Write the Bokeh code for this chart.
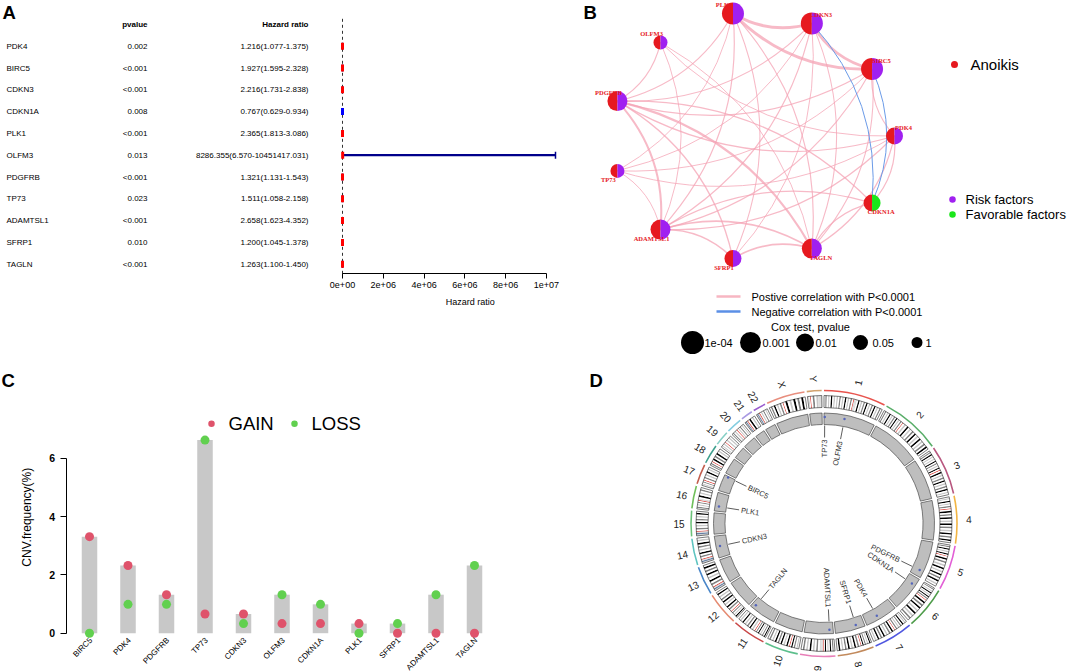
import math
from bokeh.plotting import figure
from bokeh.layouts import row, column
from bokeh.models import FixedTicker, ColumnDataSource
from bokeh.core.properties import value
from bokeh.embed import file_html
from bokeh.resources import INLINE

SANS = "Liberation Sans"
SERIF = "Liberation Serif"

# ---------------- Panel A: univariate Cox regression ----------------
genes_a = ["PDK4", "BIRC5", "CDKN3", "CDKN1A", "PLK1", "OLFM3", "PDGFRB", "TP73", "ADAMTSL1", "SFRP1", "TAGLN"]
pvalue_a = ["0.002", "<0.001", "<0.001", "0.008", "<0.001", "0.013", "<0.001", "0.023", "<0.001", "0.010", "<0.001"]
hr = [1.216, 1.927, 2.216, 0.767, 2.365, 8286.355, 1.321, 1.511, 2.658, 1.200, 1.263]
hr_low = [1.077, 1.595, 1.731, 0.629, 1.813, 6.570, 1.131, 1.058, 1.623, 1.045, 1.100]
hr_high = [1.375, 2.328, 2.838, 0.934, 3.086, 10451417.031, 1.543, 2.158, 4.352, 1.378, 1.450]
hr_ticks = [0.0, 2e6, 4e6, 6e6, 8e6, 1e7]
hr_tick_labels = ["0e+00", "2e+06", "4e+06", "6e+06", "8e+06", "1e+07"]

# ---------------- Panel B: correlation network ----------------
net_genes = ["PDK4", "BIRC5", "CDKN3", "PLK1", "OLFM3", "PDGFRB", "TP73", "ADAMTSL1", "SFRP1", "TAGLN", "CDKN1A"]
net_cox_p = [0.002, 5e-5, 5e-5, 5e-5, 0.013, 5e-4, 0.023, 5e-4, 0.010, 5e-4, 0.008]
edge_from = ["PLK1", "PLK1", "CDKN3", "PDGFRB", "PDGFRB", "ADAMTSL1", "SFRP1", "ADAMTSL1", "OLFM3", "PLK1",
             "PLK1", "PLK1", "PLK1", "PLK1", "CDKN3", "CDKN3", "CDKN3", "CDKN3", "CDKN3", "BIRC5",
             "BIRC5", "BIRC5", "BIRC5", "BIRC5", "OLFM3", "OLFM3", "OLFM3", "PDGFRB", "PDGFRB", "PDGFRB",
             "TP73", "TP73", "ADAMTSL1", "ADAMTSL1", "TAGLN", "TAGLN", "PDK4", "CDKN3", "BIRC5"]
edge_to = ["CDKN3", "BIRC5", "BIRC5", "TAGLN", "ADAMTSL1", "TAGLN", "TAGLN", "SFRP1", "PDGFRB", "PDGFRB",
           "TP73", "ADAMTSL1", "SFRP1", "TAGLN", "PDGFRB", "ADAMTSL1", "TP73", "TAGLN", "SFRP1", "PDGFRB",
           "TP73", "ADAMTSL1", "TAGLN", "PDK4", "PDK4", "TAGLN", "ADAMTSL1", "PDK4", "CDKN1A", "SFRP1",
           "PDK4", "ADAMTSL1", "PDK4", "CDKN1A", "PDK4", "CDKN1A", "CDKN1A", "CDKN1A", "CDKN1A"]
edge_cor = [0.85, 0.85, 0.80, 0.65, 0.60, 0.50, 0.50, 0.42, 0.35, 0.35,
            0.30, 0.35, 0.32, 0.35, 0.35, 0.35, 0.30, 0.32, 0.30, 0.35,
            0.30, 0.35, 0.32, 0.32, 0.30, 0.30, 0.30, 0.35, 0.35, 0.40,
            0.30, 0.30, 0.35, 0.35, 0.35, 0.35, 0.35, -0.30, -0.30]
legend_p = [1e-4, 0.001, 0.01, 0.05, 1.0]
legend_p_labels = ["1e-04", "0.001", "0.01", "0.05", "1"]

# ---------------- Panel C: CNV frequency ----------------
cnv_genes = ["BIRC5", "PDK4", "PDGFRB", "TP73", "CDKN3", "OLFM3", "CDKN1A", "PLK1", "SFRP1", "ADAMTSL1", "TAGLN"]
cnv_gain = [3.31, 2.32, 1.32, 0.66, 0.66, 0.33, 0.33, 0.33, 0.00, 0.00, 0.00]
cnv_loss = [0.00, 0.99, 0.99, 6.62, 0.33, 1.32, 0.99, 0.00, 0.33, 1.32, 2.32]
cnv_ticks = [0, 2, 4, 6]

# ---------------- Panel D: chromosome circos ----------------
chroms = ["1", "2", "3", "4", "5", "6", "7", "8", "9", "10", "11", "12", "13", "14", "15", "16",
          "17", "18", "19", "20", "21", "22", "X", "Y"]
chrom_size = [249.25, 243.2, 198.0, 191.15, 180.9, 171.1, 159.1, 146.4, 141.2, 135.5, 135.0, 133.85,
              115.2, 107.3, 102.5, 90.35, 81.2, 78.1, 59.1, 63.0, 48.1, 51.3, 155.3, 59.4]
chrom_cen = [125.0, 93.3, 91.0, 50.4, 48.4, 61.0, 59.9, 45.6, 49.0, 40.2, 53.7, 35.8,
             17.9, 17.6, 19.0, 36.6, 24.0, 17.2, 26.5, 27.5, 13.2, 14.7, 60.6, 12.5]
chrom_color = ["#E8544E", "#5AAE6A", "#B8577F", "#F2B544", "#E25FD6", "#4E9C4A", "#5158E0", "#C28A5C",
               "#E87FB8", "#5CBF8C", "#C94848", "#E58B72", "#4A86C8", "#5EC4C0", "#6CC27A", "#6FBF5A",
               "#C25E4E", "#3FA08E", "#86CFC6", "#84CDE0", "#A99BE3", "#9A5CCF", "#E88E7E", "#D2A26E"]
band_p = ["w3w1w4w2w1w3w2w4w1w3w", "w3w1w4w2w3w4w1w3w", "w3w4w1w2w4w3w1w4w", "w2w4w1w3w",
          "w3w4w2w4w", "w3w1w4w2w4w3w", "w2w4w3w1w3w", "w4w2w3w4w", "w3w4w2w4w", "w2w3w4w",
          "w4w3w1w4w3w", "w4w2w3w", "vsv", "vsv", "vsv", "w3w1w3w", "w2w3w", "w3w", "w1w2w",
          "w3w1w", "vsv", "vsv", "w3w4w1w3w", "w1w"]
band_q = ["vvw4w2w3w4w1w3w4w2w3w", "w2w4w1w3w4w2w4w1w3w4w", "w4w2w3w4w1w3w4w2w", "w4w3w4w2w4w3w1w4w3w4w",
          "w4w3w1w4w2w4w3w4w1w", "w4w3w4w1w4w2w3w", "w4w3w1w4w3w4w2w", "w3w4w1w4w3w2w4w",
          "vvw3w1w4w2w3w", "w4w2w4w3w4w1w3w", "w1w4w3w2w4w1w", "w3w4w2w4w3w1w4w",
          "w3w4w1w4w3w4w", "w3w4w2w3w4w1w", "w3w2w4w3w2w4w", "vw4w2w3w", "w3w1w4w2w",
          "w4w3w4w2w", "w1w2w", "w2w3w2w", "w4w2w", "w2w3w1w", "w4w2w4w3w4w", "w3w1vv"]
band_colors = {"w": "#FFFFFF", "1": "#C8C8C8", "2": "#C8C8C8", "3": "#828282", "4": "#000000",
               "v": "#DCDCDC", "s": "#647FA4", "a": "#D92F27"}
gene_chrom = ["7", "17", "14", "6", "16", "1", "5", "1", "9", "8", "11"]
gene_pos_mb = [95.2, 76.2, 54.9, 36.6, 23.7, 102.3, 149.5, 3.6, 18.5, 41.1, 117.1]
gene_names_d = ["PDK4", "BIRC5", "CDKN3", "CDKN1A", "PLK1", "OLFM3", "PDGFRB", "TP73", "ADAMTSL1", "SFRP1", "TAGLN"]


def base_fig(w, h, xr, yr, **kw):
    p = figure(width=w, height=h, x_range=xr, y_range=yr, output_backend="svg",
               toolbar_location=None, min_border=0, **kw)
    p.outline_line_color = None
    p.background_fill_color = "white"
    p.border_fill_color = "white"
    for g in p.grid:
        g.grid_line_color = None
    return p


def txt(p, x, y, text, size, align="left", baseline="middle", style="normal",
        color="black", font=SANS, angle=0.0, **kw):
    p.text(x=x, y=y, text=text, text_align=align, text_baseline=baseline,
           text_font=value(font), text_font_size=value(size), text_font_style=style,
           text_color=color, angle=angle, **kw)


def style_axis(a, size, bold=False):
    a.axis_line_color = "black"
    a.axis_line_width = 1
    a.major_tick_line_color = "black"
    a.major_tick_in = 0
    a.minor_tick_out = 0
    a.minor_tick_in = 0
    a.major_label_text_font = SANS
    a.major_label_text_font_size = size
    a.major_label_text_color = "black"
    a.major_label_text_font_style = "bold" if bold else "normal"


TOP_H, BOT_H = 368, 304
ROW_PX = 21.8          # px per table row in panel A
ROW1_Y = 263.7         # pixel row of the last gene (y = 1)


def row_val(py):
    return 1 + (ROW1_Y - py) / ROW_PX


# ======================= Panel A (table) =======================
n = len(genes_a)
rows_y = [n - i for i in range(n)]
yrA = (row_val(TOP_H), row_val(0))
pA = base_fig(322, TOP_H, (0, 322), yrA, x_axis_location=None, y_axis_location=None)
txt(pA, [2], [row_val(1)], ["A"], "18.5px", baseline="top", style="bold")
txt(pA, 6, rows_y, genes_a, "8px")
txt(pA, 147, rows_y, pvalue_a, "8px", align="right")
hr_text = ["%.3f(%.3f-%.3f)" % (a, b, c) for a, b, c in zip(hr, hr_low, hr_high)]
txt(pA, 308, rows_y, hr_text, "8px", align="right")
txt(pA, [147], [n + 1], ["pvalue"], "8px", align="right", style="bold")
txt(pA, [308], [n + 1], ["Hazard ratio"], "8px", align="right", style="bold")

# ======================= Panel A (forest) =======================
HR_PX = 20.38e-6       # px per hazard-ratio unit
HR0 = 20               # px from left edge of this figure to HR = 0
pF = base_fig(238, TOP_H, (-HR0 / HR_PX, (238 - HR0) / HR_PX), yrA, y_axis_location=None)
axis_y = row_val(273.3)
pF.segment(x0=[1], y0=[axis_y], x1=[1], y1=[row_val(18.3)], line_dash="3 3", line_color="#333333", line_width=1)
pF.segment(x0=hr_low, y0=rows_y, x1=hr_high, y1=rows_y, line_color="#00008B", line_width=2.2)
pF.scatter(x=hr_high, y=rows_y, marker="dash", angle=math.pi / 2, size=7, line_color="#00008B", line_width=1.5)
box_col = ["#FF0000" if h > 1 else "#0000FF" for h in hr]
pF.rect(x=hr, y=rows_y, width=3, height=7, width_units="screen", height_units="screen",
        fill_color=box_col, line_color=None)
ax = pF.xaxis[0]
ax.ticker = FixedTicker(ticks=hr_ticks)
ax.major_label_overrides = {t: s for t, s in zip(hr_ticks, hr_tick_labels)}
ax.bounds = (0, 1e7)
ax.fixed_location = axis_y
style_axis(ax, "9px")
ax.major_tick_out = 5
ax.major_label_standoff = 3
txt(pF, [6.27e6], [row_val(301.5)], ["Hazard ratio"], "9px", align="center")

# ======================= Panel B (network) =======================
RX, RY = 141.4, 123.8
CXB, CYB = 752.6, 135.5


def bx(v):
    return (v - CXB) / RX


def by(v):
    return (CYB - v) / RY


pB = base_fig(512, TOP_H, (bx(560), bx(1072)), (by(TOP_H), by(0)), x_axis_location=None, y_axis_location=None)
m = len(net_genes)
ang = [2 * math.pi * i / m for i in range(m)]
nx = [math.cos(a) for a in ang]
ny = [math.sin(a) for a in ang]
idx = {g: i for i, g in enumerate(net_genes)}

e = dict(x0=[], y0=[], x1=[], y1=[], cx=[], cy=[], w=[], c=[], a=[])
for f, t, r in zip(edge_from, edge_to, edge_cor):
    i, j = sorted((idx[f], idx[t]))
    x0p, y0p = nx[i] * RX, ny[i] * RY
    x1p, y1p = nx[j] * RX, ny[j] * RY
    dx, dy = x1p - x0p, y1p - y0p
    k = 0.22
    cxp = (x0p + x1p) / 2 - dy * k
    cyp = (y0p + y1p) / 2 + dx * k
    e["x0"].append(nx[i]); e["y0"].append(ny[i])
    e["x1"].append(nx[j]); e["y1"].append(ny[j])
    e["cx"].append(cxp / RX); e["cy"].append(cyp / RY)
    if r > 0:
        e["w"].append(1.0 + (abs(r) - 0.3) * 3.6)
        e["c"].append("#F4A3B4")
        e["a"].append(0.75)
    else:
        e["w"].append(1.0)
        e["c"].append("#6B9BE8")
        e["a"].append(1.0)
pB.quadratic(x0="x0", y0="y0", x1="x1", y1="y1", cx="cx", cy="cy", line_width="w",
             line_color="c", line_alpha="a", source=ColumnDataSource(e))


def node_size(p):
    if p <= 1e-4:
        return 22
    if p <= 1e-3:
        return 20
    if p <= 0.01:
        return 17
    if p <= 0.05:
        return 14
    return 10


hr_by_gene = dict(zip(genes_a, hr))
sizes = [node_size(p) for p in net_cox_p]
right_col = ["#A020F0" if hr_by_gene[g] > 1 else "#1AE61A" for g in net_genes]
RED = "#E6191F"
pB.wedge(x=nx, y=ny, radius=[s / 2 for s in sizes], radius_units="screen",
         start_angle=math.pi / 2, end_angle=3 * math.pi / 2, fill_color=RED, line_color=None)
pB.wedge(x=nx, y=ny, radius=[s / 2 for s in sizes], radius_units="screen",
         start_angle=-math.pi / 2, end_angle=math.pi / 2, fill_color=right_col, line_color=None)
lab_dx = [9 if c > 0.01 else -9 for c in nx]
lab_dy = [-9 if s >= -0.01 else 9 for s in ny]
txt(pB, nx, ny, net_genes, "6.5px", align="center", style="bold", color=RED, font=SERIF,
    x_offset=lab_dx, y_offset=lab_dy)
txt(pB, [bx(583)], [by(1)], ["B"], "18.5px", baseline="top", style="bold")
# legends
pB.scatter(x=[bx(954)], y=[by(64)], size=7, fill_color=RED, line_color=None)
txt(pB, [bx(970)], [by(64)], ["Anoikis"], "15px")
pB.scatter(x=[bx(952), bx(952)], y=[by(199), by(214)], size=6.5, fill_color=["#A020F0", "#1AE61A"], line_color=None)
txt(pB, [bx(965), bx(965)], [by(199), by(214)], ["Risk factors", "Favorable factors"], "13px")
pB.segment(x0=[bx(716), bx(716)], y0=[by(296), by(311)], x1=[bx(740), bx(740)], y1=[by(296), by(311)],
           line_color=["#F7B6C2", "#5B8FE6"], line_width=2.5)
txt(pB, [bx(751), bx(751)], [by(296), by(311)],
    ["Postive correlation with P<0.0001", "Negative correlation with P<0.0001"], "11px")
txt(pB, [bx(810)], [by(326)], ["Cox test, pvalue"], "11px", align="center")
leg_cx = [692, 750, 804.5, 860, 916.5]
leg_tx = [704, 762, 815, 872, 925]
pB.scatter(x=[bx(v) for v in leg_cx], y=[by(342)] * 5, size=[node_size(p) + 1 for p in legend_p],
           fill_color="black", line_color=None)
txt(pB, [bx(v) for v in leg_tx], [by(342)] * 5, legend_p_labels, "11px")

# ======================= Panel C (CNV) =======================
CAT0, CAT_PX = 89.0, 38.5      # pixel centre of first gene, px per gene
Y0_PX, Y_PX = 632.7, 29.17     # pixel of CNV = 0, px per percent


def cx_(px):
    return (px - CAT0) / CAT_PX


def cy_(py):
    return (Y0_PX - py) / Y_PX


pC = base_fig(560, BOT_H, (cx_(0), cx_(560)), (cy_(672), cy_(368)), x_axis_location=None)
ci = list(range(len(cnv_genes)))
bar_top = [max(g, l) for g, l in zip(cnv_gain, cnv_loss)]
pC.vbar(x=ci, width=0.403, top=bar_top, bottom=0, fill_color="#C8C8C8", line_color=None)
pC.scatter(x=ci, y=cnv_gain, size=9, fill_color="#DF536B", line_color=None)
pC.scatter(x=ci, y=cnv_loss, size=9, fill_color="#61D04F", line_color=None)
txt(pC, [i + 0.04 for i in ci], cy_(638.5), cnv_genes, "8px", align="right", angle=math.pi / 4)
pC.scatter(x=[cx_(211), cx_(294)], y=[cy_(423.3)] * 2, size=6.5, fill_color=["#DF536B", "#61D04F"], line_color=None)
txt(pC, [cx_(228), cx_(311)], [cy_(423.3)] * 2, ["GAIN", "LOSS"], "18.5px")
txt(pC, [cx_(1)], [cy_(369)], ["C"], "18.5px", baseline="top", style="bold")
txt(pC, [cx_(26.9)], [cy_(516.7)], ["CNV.frequency(%)"], "12px", align="center", angle=math.pi / 2)
ya = pC.yaxis[0]
ya.ticker = FixedTicker(ticks=cnv_ticks)
ya.bounds = (0, 6)
ya.fixed_location = cx_(65.5)
style_axis(ya, "10.5px", bold=True)
ya.major_tick_out = 6
ya.major_label_standoff = 5

# ======================= Panel D (circos) =======================
S = 133.0
CXD, CYD = 823.5, 523.0
pD = base_fig(512, BOT_H, ((560 - CXD) / S, (1072 - CXD) / S), ((CYD - 672) / S, (CYD - 368) / S),
              x_axis_location=None, y_axis_location=None)
txt(pD, [(589 - CXD) / S], [(CYD - 369) / S], ["D"], "18.5px", baseline="top", style="bold")

GAP = 1.0
total = sum(chrom_size)
KD = (360.0 - GAP * len(chroms)) / total
chrom_start = []
acc = 0.0
for i, s in enumerate(chrom_size):
    chrom_start.append(90.0 - acc * KD - i * GAP)
    acc += s


def theta(c, pos):
    return math.radians(chrom_start[c] - pos * KD)


bs, be, bc = [], [], []
ACW = 1.5
for c in range(len(chroms)):
    cen, size = chrom_cen[c], chrom_size[c]
    pe, qs = cen - ACW, cen + ACW
    pb, qb = band_p[c], band_q[c]
    for j, ch in enumerate(pb):
        a0, a1 = pe * j / len(pb), pe * (j + 1) / len(pb)
        bs.append(theta(c, a1)); be.append(theta(c, a0)); bc.append(band_colors[ch])
    bs.append(theta(c, qs)); be.append(theta(c, pe)); bc.append(band_colors["a"])
    for j, ch in enumerate(qb):
        a0 = qs + (size - qs) * j / len(qb)
        a1 = qs + (size - qs) * (j + 1) / len(qb)
        bs.append(theta(c, a1)); be.append(theta(c, a0)); bc.append(band_colors[ch])

c_start = [theta(c, chrom_size[c]) for c in range(len(chroms))]
c_end = [theta(c, 0) for c in range(len(chroms))]
pD.arc(x=0, y=0, radius=133 / S, start_angle=c_start, end_angle=c_end, line_color=chrom_color, line_width=1.6)
pD.annular_wedge(x=0, y=0, inner_radius=116 / S, outer_radius=128 / S, start_angle=bs, end_angle=be,
                 fill_color=bc, line_color=None)
pD.annular_wedge(x=0, y=0, inner_radius=116 / S, outer_radius=128 / S, start_angle=c_start, end_angle=c_end,
                 fill_color=None, line_color="#222222", line_width=0.6)
pD.annular_wedge(x=0, y=0, inner_radius=99 / S, outer_radius=110.5 / S, start_angle=c_start, end_angle=c_end,
                 fill_color="#BEBEBE", line_color="#333333", line_width=0.6)
cm = [(a + b) / 2 for a, b in zip(c_start, c_end)]
LR = 145 / S
rot = [a if math.cos(a) >= 0 else a - math.pi for a in cm]
txt(pD, [LR * math.cos(a) for a in cm], [LR * math.sin(a) for a in cm], chroms, "10px",
    align="center", color="#222222", angle=rot)
gci = {name: i for i, name in enumerate(chroms)}
gth = [theta(gci[c], pos) for c, pos in zip(gene_chrom, gene_pos_mb)]
pD.scatter(x=[0.80 * math.cos(a) for a in gth], y=[0.80 * math.sin(a) for a in gth], size=2.5,
           fill_color="#5566BB", line_color=None)
r1, r2, r3 = 98 / S, 86 / S, 84 / S
pD.segment(x0=[r1 * math.cos(a) for a in gth], y0=[r1 * math.sin(a) for a in gth],
           x1=[r2 * math.cos(a) for a in gth], y1=[r2 * math.sin(a) for a in gth],
           line_color="#333333", line_width=0.8)
rt = [(g, a) for g, a in zip(gene_names_d, gth) if math.cos(a) >= 0]
lt = [(g, a) for g, a in zip(gene_names_d, gth) if math.cos(a) < 0]
txt(pD, [r3 * math.cos(a) for g, a in rt], [r3 * math.sin(a) for g, a in rt], [g for g, a in rt], "7.5px",
    align="right", color="#333333", angle=[a for g, a in rt])
txt(pD, [r3 * math.cos(a) for g, a in lt], [r3 * math.sin(a) for g, a in lt], [g for g, a in lt], "7.5px",
    align="left", color="#333333", angle=[a - math.pi for g, a in lt])

layout = column(row(pA, pF, pB), row(pC, pD))
open("out.html", "w").write(file_html(layout, INLINE))
